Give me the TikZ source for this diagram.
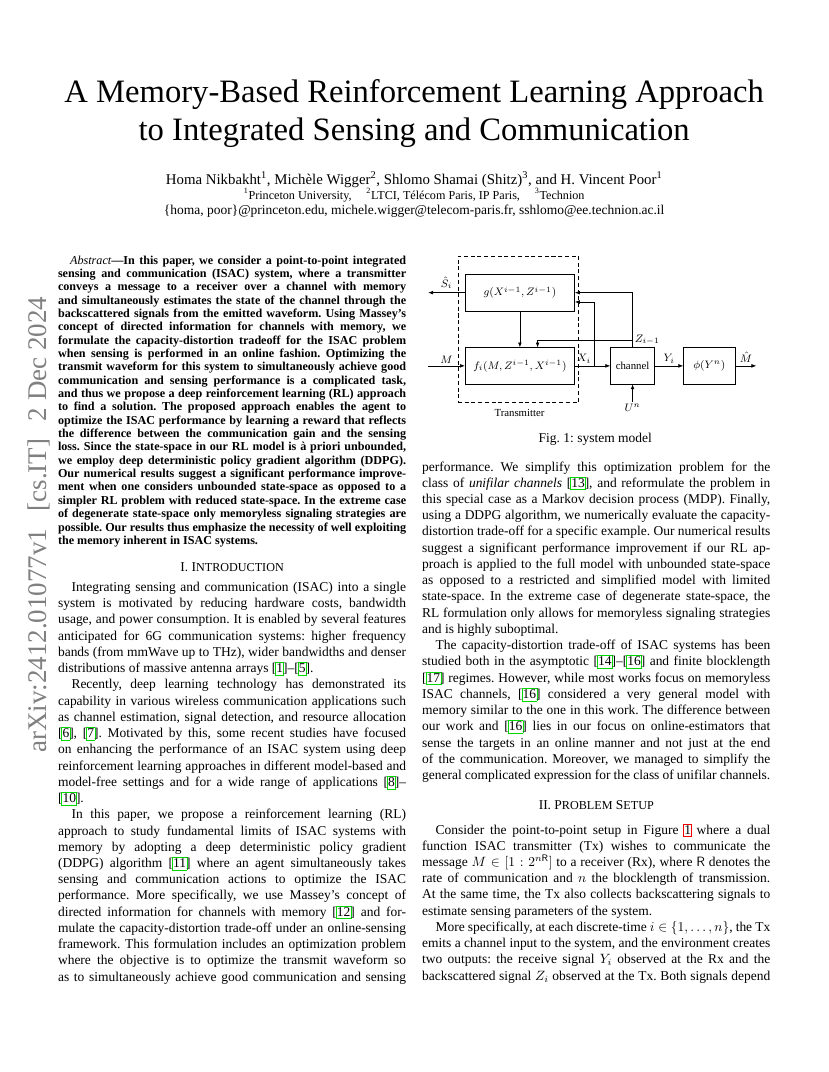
\documentclass[tikz,border=0pt]{standalone}
\usepackage{fontspec}
\setmainfont{Liberation Serif}
\usetikzlibrary{arrows.meta,calc}
\definecolor{citegreen}{rgb}{0,0.85,0}
\definecolor{refred}{rgb}{0.95,0,0}
\newcommand{\cbx}[1]{{\setlength{\fboxsep}{0.3pt}\setlength{\fboxrule}{0.5pt}\kern-0.8pt\textcolor{citegreen}{\fbox{\textcolor{black}{\vphantom{[}#1}}}\kern-0.8pt}}
\newcommand{\rbx}[1]{{\setlength{\fboxsep}{0.3pt}\setlength{\fboxrule}{0.5pt}\kern-0.8pt\textcolor{refred}{\fbox{\textcolor{black}{\vphantom{[}#1}}}\kern-0.8pt}}
\newcommand{\jline}[1]{\hbox to\linewidth{#1}}
\newcommand{\lline}[1]{\hbox to\linewidth{#1\hfil}}
\newcommand{\scx}[1]{{\fontsize{9}{9}\selectfont #1}}
\begin{document}
\frenchspacing
\begin{tikzpicture}[x=0.73913bp,y=-0.73881bp,
  txt/.style={anchor=base west, inner sep=0pt, outer sep=0pt},
  ctr/.style={anchor=base, inner sep=0pt, outer sep=0pt},
  blk/.style={draw, line width=0.5pt, inner sep=0pt, font=\footnotesize},
  arr/.style={-{Latex[length=3.6pt,width=2.8pt]}, line width=0.5pt},
  lbl/.style={font=\footnotesize, inner sep=1.5pt}]
\fill[white] (0,0) rectangle (828,1072);
\useasboundingbox (0,0) rectangle (828,1072);

% arXiv stamp
\node[anchor=base west, rotate=90, inner sep=0pt, text=black!50, font=\fontsize{20}{24}\selectfont] (stamp) at (46,753) {arXiv:2412.01077v1\hspace{13pt}[cs.IT]\hspace{13pt}2 Dec 2024};

% title block
\node[ctr, font=\fontsize{24.2}{28}\selectfont] (t1) at (414,103) {A Memory-Based Reinforcement Learning Approach};
\node[ctr, font=\fontsize{24.2}{28}\selectfont] (t2) at (414,140.5) {to Integrated Sensing and Communication};
\node[ctr, font=\fontsize{11}{13}\selectfont] (auth) at (414,184) {Homa Nikbakht\textsuperscript{1}, Michèle Wigger\textsuperscript{2}, Shlomo Shamai (Shitz)\textsuperscript{3}, and H. Vincent Poor\textsuperscript{1}};
\node[ctr, font=\fontsize{9}{10}\selectfont] (affil) at (414,199) {\textsuperscript{1}Princeton University,\hspace{11pt}\textsuperscript{2}LTCI, Télécom Paris, IP Paris,\hspace{11pt}\textsuperscript{3}Technion};
\node[ctr, font=\fontsize{10}{12}\selectfont] (mail) at (414,214) {\{homa, poor\}@princeton.edu, michele.wigger@telecom-paris.fr, sshlomo@ee.technion.ac.il};

% abstract
\node[txt] (abs) at (58,264) {\parbox[t]{257.2bp}{\fontsize{9}{9.9}\selectfont\bfseries\frenchspacing
\jline{\kern1em{\mdseries\itshape Abstract}---In this paper, we consider a point-to-point integrated}
\jline{sensing and communication (ISAC) system, where a transmitter}
\jline{conveys a message to a receiver over a channel with memory}
\jline{and simultaneously estimates the state of the channel through the}
\jline{backscattered signals from the emitted waveform. Using Massey's}
\jline{concept of directed information for channels with memory, we}
\jline{formulate the capacity-distortion tradeoff for the ISAC problem}
\jline{when sensing is performed in an online fashion. Optimizing the}
\jline{transmit waveform for this system to simultaneously achieve good}
\jline{communication and sensing performance is a complicated task,}
\jline{and thus we propose a deep reinforcement learning (RL) approach}
\jline{to find a solution. The proposed approach enables the agent to}
\jline{optimize the ISAC performance by learning a reward that reflects}
\jline{the difference between the communication gain and the sensing}
\jline{loss. Since the state-space in our RL model is à priori unbounded,}
\jline{we employ deep deterministic policy gradient algorithm (DDPG).}
\jline{Our numerical results suggest a significant performance improve-}
\jline{ment when one considers unbounded state-space as opposed to a}
\jline{simpler RL problem with reduced state-space. In the extreme case}
\jline{of degenerate state-space only memoryless signaling strategies are}
\jline{possible. Our results thus emphasize the necessity of well exploiting}
\lline{the memory inherent in ISAC systems.}}};

% section I
\node[ctr, font=\fontsize{10}{12}\selectfont] (h1) at (232,571) {I.~I\scx{NTRODUCTION}};
\node[txt] (intro) at (58,591.5) {\parbox[t]{257.2bp}{\fontsize{10}{12.04}\selectfont\frenchspacing
\jline{\kern1em Integrating sensing and communication (ISAC) into a single}
\jline{system is motivated by reducing hardware costs, bandwidth}
\jline{usage, and power consumption. It is enabled by several features}
\jline{anticipated for 6G communication systems: higher frequency}
\jline{bands (from mmWave up to THz), wider bandwidths and denser}
\lline{distributions of massive antenna arrays [\cbx{1}]--[\cbx{5}].}
\jline{\kern1em Recently, deep learning technology has demonstrated its}
\jline{capability in various wireless communication applications such}
\jline{as channel estimation, signal detection, and resource allocation}
\jline{[\cbx{6}], [\cbx{7}]. Motivated by this, some recent studies have focused}
\jline{on enhancing the performance of an ISAC system using deep}
\jline{reinforcement learning approaches in different model-based and}
\jline{model-free settings and for a wide range of applications [\cbx{8}]--}
\lline{[\cbx{10}].}
\jline{\kern1em In this paper, we propose a reinforcement learning (RL)}
\jline{approach to study fundamental limits of ISAC systems with}
\jline{memory by adopting a deep deterministic policy gradient}
\jline{(DDPG) algorithm [\cbx{11}] where an agent simultaneously takes}
\jline{sensing and communication actions to optimize the ISAC}
\jline{performance. More specifically, we use Massey's concept of}
\jline{directed information for channels with memory [\cbx{12}] and for-}
\jline{mulate the capacity-distortion trade-off under an online-sensing}
\jline{framework. This formulation includes an optimization problem}
\jline{where the objective is to optimize the transmit waveform so}
\jline{as to simultaneously achieve good communication and sensing}}};

% right column, first block
\node[txt] (rc1) at (422,471) {\parbox[t]{257.2bp}{\fontsize{10}{12.04}\selectfont\frenchspacing
\jline{performance. We simplify this optimization problem for the}
\jline{class of \textit{unifilar channels} [\cbx{13}], and reformulate the problem in}
\jline{this special case as a Markov decision process (MDP). Finally,}
\jline{using a DDPG algorithm, we numerically evaluate the capacity-}
\jline{distortion trade-off for a specific example. Our numerical results}
\jline{suggest a significant performance improvement if our RL ap-}
\jline{proach is applied to the full model with unbounded state-space}
\jline{as opposed to a restricted and simplified model with limited}
\jline{state-space. In the extreme case of degenerate state-space, the}
\jline{RL formulation only allows for memoryless signaling strategies}
\lline{and is highly suboptimal.}
\jline{\kern1em The capacity-distortion trade-off of ISAC systems has been}
\jline{studied both in the asymptotic [\cbx{14}]--[\cbx{16}] and finite blocklength}
\jline{[\cbx{17}] regimes. However, while most works focus on memoryless}
\jline{ISAC channels, [\cbx{16}] considered a very general model with}
\jline{memory similar to the one in this work. The difference between}
\jline{our work and [\cbx{16}] lies in our focus on online-estimators that}
\jline{sense the targets in an online manner and not just at the end}
\jline{of the communication. Moreover, we managed to simplify the}
\jline{general complicated expression for the class of unifilar channels.}}};

% section II
\node[ctr, font=\fontsize{10}{12}\selectfont] (h2) at (596,809) {II.~P\scx{ROBLEM} S\scx{ETUP}};
\node[txt] (rc2) at (422,834) {\parbox[t]{257.2bp}{\fontsize{10}{12.04}\selectfont\frenchspacing
\jline{\kern1em Consider the point-to-point setup in Figure \rbx{1} where a dual}
\jline{function ISAC transmitter (Tx) wishes to communicate the}
\jline{message $M\in[1:2^{n\mathsf{R}}]$ to a receiver (Rx), where $\mathsf{R}$ denotes the}
\jline{rate of communication and $n$ the blocklength of transmission.}
\jline{At the same time, the Tx also collects backscattering signals to}
\lline{estimate sensing parameters of the system.}
\jline{\kern1em More specifically, at each discrete-time $i\in\{1,\ldots,n\}$, the Tx}
\jline{emits a channel input to the system, and the environment creates}
\jline{two outputs: the receive signal $Y_i$ observed at the Rx and the}
\jline{backscattered signal $Z_i$ observed at the Tx. Both signals depend}}};

% ---------- figure ----------
\node[draw, line width=0.5pt, dash pattern=on 3pt off 2pt, minimum width=89.1bp, minimum height=108.1bp, inner sep=0pt] (tx) at (518,329.15) {};
\node[blk, minimum width=80.8bp, minimum height=27.1bp] (g) at (519.65,292.65) {$g(X^{i-1},Z^{i-1})$};
\node[blk, minimum width=80.8bp, minimum height=26.8bp] (f) at (519.65,365.85) {$f_i(M,Z^{i-1},X^{i-1})$};
\node[blk, minimum width=32.5bp, minimum height=26.8bp] (ch) at (632.3,365.85) {channel};
\node[blk, minimum width=38bp, minimum height=26.8bp] (phi) at (709,365.85) {$\phi(Y^n)$};
\coordinate (shat) at (428,292.65);
\coordinate (min) at (428,365.85);
\coordinate (br) at (594.3,365.85);
\coordinate (zj) at (632.3,340);
\coordinate (mout) at (756,365.85);
\coordinate (un) at (632.3,401.7);

\draw[arr] (g.west) -- (shat) node[lbl, midway, above=1pt] (shl) {$\hat{S}_i$};
\draw[arr] (min) -- (f.west) node[lbl, midway, above] (ml) {$M$};
\draw[arr] (f.east) -- (ch.west);
\node[lbl, anchor=south west] (xl) at (f.east) {$X_i$};
\draw[arr] (br) |- ($(g.east)!0.5!(g.south east)$);
\draw[arr] (ch.north) |- (g.east);
\draw[arr] (zj) -| ($(f.north west)!0.661!(f.north east)$);
\node[lbl, anchor=west] (zl) at (zj) {$Z_{i-1}$};
\draw[arr] (g.south) -- (f.north);
\draw[arr] (ch.east) -- (phi.west) node[lbl, midway, above] (yl) {$Y_i$};
\draw[arr] (phi.east) -- (mout) node[lbl, midway, above=1pt] (mhl) {$\hat{M}$};
\draw[arr] (un) -- (ch.south);
\node[lbl, below] (unl) at (un) {$U^n$};
\node[font=\footnotesize, inner sep=0pt] (txl) at (519.3,413.3) {Transmitter};
\node[ctr, font=\fontsize{10}{12}\selectfont] (cap) at (595,442.5) {Fig. 1: system model};
\end{tikzpicture}
\end{document}
